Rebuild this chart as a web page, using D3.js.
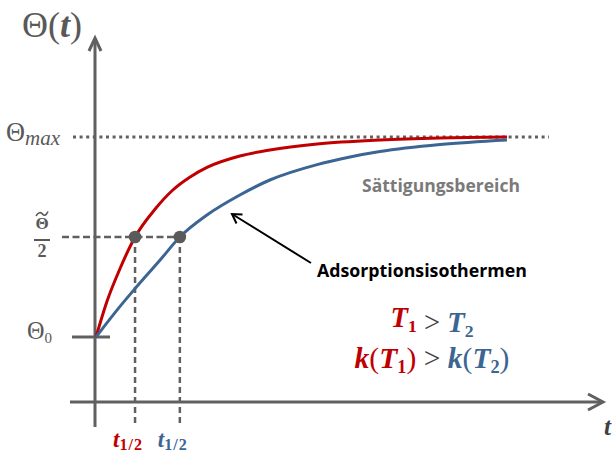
<!DOCTYPE html>
<html><head><meta charset="utf-8">
<script src="https://cdn.jsdelivr.net/npm/d3@7"></script>
<style>body{margin:0;background:#fff}svg{display:block}</style>
</head><body>
<svg id="chart" width="616" height="457"></svg>
<script>
// Coverage Θ(t) of two adsorption curves (normalised: Θ0 = 0, Θmax = 1)
const timeT1 = [0, 0.27, 0.58, 0.95, 1.44, 1.87, 2.29, 2.70, 3.50, 4.23, 5.38, 6.91, 8.37, 10];
const coverageT1 = [0, 0.18, 0.34, 0.5, 0.64, 0.735, 0.80, 0.848, 0.905, 0.935, 0.965, 0.985, 0.995, 1];
const timeT2 = [0, 0.58, 0.95, 1.56, 2.04, 2.70, 3.50, 4.23, 5.38, 6.18, 6.91, 8.37, 10];
const coverageT2 = [0, 0.152, 0.242, 0.385, 0.5, 0.61, 0.71, 0.785, 0.862, 0.90, 0.927, 0.962, 0.985];
const halfTimes = [0.95, 2.04];
const halfCoverage = 0.5;
const seriesNames = ["T1", "T2"];
const seriesColors = ["#c00000", "#3b6592"];

const axisGray = "#606060";
const labelGray = "#595959";
const mathFont = "'Liberation Serif', 'DejaVu Serif', serif";
const sansFont = "'Open Sans', 'Noto Sans', sans-serif";

const svg = d3.select("#chart");
const x = d3.scaleLinear().domain([0, 10]).range([96, 507]);
const y = d3.scaleLinear().domain([0, 1]).range([337, 137]);

const series = [
  timeT1.map((t, i) => ({t, v: coverageT1[i]})),
  timeT2.map((t, i) => ({t, v: coverageT2[i]}))
];

// axes with open arrow heads
const axisX0 = x(0) - 1;          // vertical axis position
const axisY0 = y(-0.325);         // horizontal axis position
const g = svg.append("g");
g.append("line").attr("x1", axisX0).attr("x2", axisX0).attr("y1", 427).attr("y2", 38)
  .attr("stroke", axisGray).attr("stroke-width", 3);
g.append("path").attr("d", `M${axisX0 - 6},51 L${axisX0},38 L${axisX0 + 6},51`)
  .attr("fill", "none").attr("stroke", axisGray).attr("stroke-width", 3);
g.append("line").attr("x1", 70).attr("x2", 602).attr("y1", axisY0).attr("y2", axisY0)
  .attr("stroke", axisGray).attr("stroke-width", 3);
g.append("path").attr("d", `M588,${axisY0 - 8} L603,${axisY0} L588,${axisY0 + 8}`)
  .attr("fill", "none").attr("stroke", axisGray).attr("stroke-width", 3);

// Θ0 tick
g.append("line").attr("x1", 72).attr("x2", 110).attr("y1", y(0)).attr("y2", y(0))
  .attr("stroke", axisGray).attr("stroke-width", 3);

// Θmax dotted level
g.append("line").attr("x1", 73).attr("x2", 549).attr("y1", y(1)).attr("y2", y(1))
  .attr("stroke", axisGray).attr("stroke-width", 3).attr("stroke-dasharray", "3,3.6");

// half-coverage guides
g.append("line").attr("x1", 62).attr("x2", x(d3.max(halfTimes))).attr("y1", y(halfCoverage)).attr("y2", y(halfCoverage))
  .attr("stroke", axisGray).attr("stroke-width", 2.5).attr("stroke-dasharray", "7,3.5");
halfTimes.forEach(t => {
  g.append("line").attr("x1", x(t)).attr("x2", x(t)).attr("y1", y(halfCoverage)).attr("y2", 426)
    .attr("stroke", axisGray).attr("stroke-width", 2.5).attr("stroke-dasharray", "6,4");
});

// curves
const line = d3.line().x(d => x(d.t)).y(d => y(d.v)).curve(d3.curveMonotoneX);
series.forEach((s, i) => {
  svg.append("path").datum(s).attr("d", line).attr("fill", "none")
    .attr("stroke", seriesColors[i]).attr("stroke-width", 3);
});

// half-time markers
svg.selectAll("circle.half").data(halfTimes).join("circle").attr("class", "half")
  .attr("cx", d => x(d)).attr("cy", y(halfCoverage)).attr("r", 6.3).attr("fill", "#5a5a5a");

// ---- labels ----
// scale a text's font size so that it spans the given width
function fitWidth(sel, target) {
  const w = sel.node().getComputedTextLength();
  const fs = parseFloat(sel.attr("font-size"));
  sel.attr("font-size", fs * target / w);
  return sel;
}
function sub(parent, txt, color) {
  const s = parent.append("tspan").attr("font-size", "0.62em").attr("dy", "0.28em").attr("font-style", "normal").text(txt);
  if (color) s.attr("fill", color);
  return s;
}

// Θ(t)
const yl = svg.append("text").attr("x", 22).attr("y", 37).attr("font-family", mathFont)
  .attr("font-size", 30).attr("fill", labelGray);
yl.append("tspan").text("Θ(");
yl.append("tspan").attr("font-weight", "bold").attr("font-style", "italic").text("t");
yl.append("tspan").text(")");
fitWidth(yl, 60);

// Θmax
const tm = svg.append("text").attr("x", 6).attr("y", 141).attr("font-family", mathFont)
  .attr("font-size", 19).attr("fill", labelGray);
tm.append("tspan").text("Θ");
sub(tm, "max").attr("font-style", "italic").attr("font-size", "0.8em").attr("dy", "0.2em");
fitWidth(tm, 54);

// Θ̃ / 2
svg.append("text").attr("x", 42).attr("y", 229).attr("text-anchor", "middle").attr("font-family", mathFont)
  .attr("font-weight", "bold").attr("font-size", 17).attr("fill", labelGray).text("Θ");
svg.append("path").attr("d", "M36,216 C38,212 41,212 42.5,214 S46,216 48,211.5")
  .attr("fill", "none").attr("stroke", labelGray).attr("stroke-width", 1.6);
svg.append("line").attr("x1", 34).attr("x2", 50).attr("y1", 240).attr("y2", 240)
  .attr("stroke", labelGray).attr("stroke-width", 2);
svg.append("text").attr("x", 42).attr("y", 257).attr("text-anchor", "middle").attr("font-family", mathFont)
  .attr("font-weight", "bold").attr("font-size", 18).attr("fill", labelGray).text("2");

// Θ0
const t0 = svg.append("text").attr("x", 27).attr("y", 339).attr("font-family", mathFont)
  .attr("font-size", 22).attr("fill", labelGray);
t0.append("tspan").text("Θ");
sub(t0, "0");
fitWidth(t0, 25);

// t1/2 labels
halfTimes.forEach((t, i) => {
  const lab = svg.append("text").attr("x", x(t) - 22).attr("y", 447).attr("font-family", mathFont)
    .attr("font-weight", "bold").attr("font-size", 23).attr("fill", seriesColors[i]);
  lab.append("tspan").attr("font-style", "italic").text("t");
  sub(lab, "1/2").attr("font-size", "0.7em").attr("dy", "0.2em").attr("letter-spacing", 1);
});

// t axis label
svg.append("text").attr("x", 604).attr("y", 435).attr("font-family", mathFont)
  .attr("font-weight", "bold").attr("font-style", "italic").attr("font-size", 25).attr("fill", "#404040").text("t");

// annotations
const sat = svg.append("text").attr("x", 362).attr("y", 192).attr("font-family", sansFont)
  .attr("font-weight", "bold").attr("font-size", 17).attr("fill", "#7a7a7a").text("Sättigungsbereich");
fitWidth(sat, 158);
const ads = svg.append("text").attr("x", 317).attr("y", 277).attr("font-family", sansFont)
  .attr("font-weight", "bold").attr("font-size", 17).attr("fill", "#000").text("Adsorptionsisothermen");
fitWidth(ads, 210);

svg.append("line").attr("x1", 311).attr("y1", 263).attr("x2", 232).attr("y2", 214)
  .attr("stroke", "#000").attr("stroke-width", 2);
svg.append("path").attr("d", "M242.5,214.5 L232,214 L236.5,223.5")
  .attr("fill", "none").attr("stroke", "#000").attr("stroke-width", 2);

// temperature and rate-constant relations
function addT(parent, i, withK) {
  const c = seriesColors[i];
  if (withK) {
    parent.append("tspan").attr("fill", c).attr("font-style", "italic").text("k");
    parent.append("tspan").attr("fill", c).attr("font-weight", "normal").text("(");
  }
  parent.append("tspan").attr("fill", c).attr("font-style", "italic").text("T");
  sub(parent, seriesNames[i].slice(1), c);
  const back = parent.append("tspan").attr("fill", c).attr("font-weight", "normal").attr("dy", "-0.174em");
  back.text(withK ? ")" : "");
}
const rel1 = svg.append("text").attr("x", 432).attr("y", 327).attr("text-anchor", "middle")
  .attr("font-family", mathFont).attr("font-size", 27).attr("font-weight", "bold");
addT(rel1, 0, false);
rel1.append("tspan").attr("fill", "#404040").attr("font-weight", "normal").text(" > ");
addT(rel1, 1, false);
fitWidth(rel1, 83);

const rel2 = svg.append("text").attr("x", 432).attr("y", 368).attr("text-anchor", "middle")
  .attr("font-family", mathFont).attr("font-size", 27).attr("font-weight", "bold");
addT(rel2, 0, true);
rel2.append("tspan").attr("fill", "#404040").attr("font-weight", "normal").text(" > ");
addT(rel2, 1, true);
fitWidth(rel2, 155);
</script>
</body></html>
